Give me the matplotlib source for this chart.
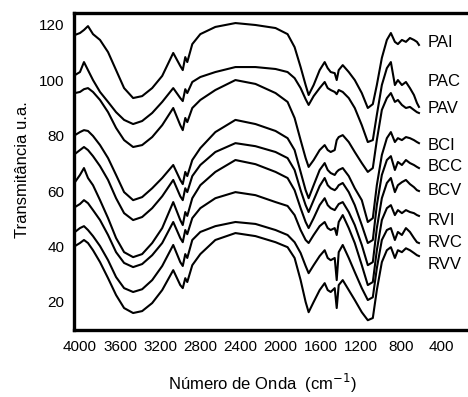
import numpy as np
import matplotlib
matplotlib.use("Agg")
import matplotlib.pyplot as plt

plt.rcParams['font.family'] = ['Liberation Sans', 'DejaVu Sans']

# numero de onda (cm-1), comum a todos os espectros
wn = [4050, 4000, 3960, 3920, 3870, 3800, 3720, 3640, 3560, 3470,
      3380, 3280, 3180, 3070, 3000, 2975, 2950, 2930, 2880, 2800,
      2650, 2450, 2250, 2050, 1930, 1860, 1800, 1750, 1720, 1670,
      1610, 1560, 1530, 1500, 1460, 1440, 1420, 1380, 1320, 1260,
      1190, 1130, 1080, 1040, 990, 940, 900, 860, 830, 790,
      750, 710, 670, 640, 620]

pai = [116.4, 117.1, 118.2, 119.6, 116.7, 114.6, 110.2, 103.7, 97.2, 93.6,
       94.3, 97.2, 101.6, 109.9, 105.2, 103.7, 108.4, 106.6, 113.1, 116.7,
       119.3, 120.7, 120.0, 118.9, 116.7, 112.0, 104.8, 98.3, 94.7, 98.3,
       103.7, 106.6, 104.4, 103.0, 102.6, 100.1, 103.7, 105.5, 103.0, 100.1,
       95.4, 90.0, 91.4, 98.3, 108.1, 114.6, 117.1, 113.9, 113.1, 114.6,
       113.9, 115.3, 114.6, 113.9, 112.8]
pac = [101.9, 103.0, 106.6, 103.7, 100.1, 95.8, 92.2, 88.5, 85.7, 84.2,
       85.3, 88.2, 92.2, 97.2, 93.6, 92.5, 96.8, 95.4, 99.4, 101.2,
       103.0, 104.8, 104.8, 104.1, 103.0, 100.8, 97.2, 93.2, 91.1, 94.3,
       97.2, 99.4, 97.2, 96.5, 95.8, 95.0, 96.5, 95.8, 93.6, 90.0,
       83.8, 77.7, 78.4, 87.5, 98.3, 104.4, 106.6, 98.3, 100.1, 98.3,
       99.4, 97.2, 94.7, 91.8, 90.4]
pav = [95.4, 95.8, 96.8, 97.2, 95.8, 92.9, 88.5, 82.8, 78.4, 75.9,
       76.6, 79.5, 83.8, 90.0, 83.8, 82.0, 86.4, 84.9, 90.0, 92.9,
       96.5, 100.1, 98.7, 95.4, 92.2, 86.4, 78.4, 71.9, 68.7, 71.2,
       74.8, 76.6, 74.8, 74.1, 74.8, 78.4, 79.5, 80.2, 77.7, 74.1,
       70.1, 66.9, 68.3, 78.4, 89.3, 93.6, 95.4, 92.2, 92.9, 91.1,
       90.0, 90.4, 89.3, 88.5, 88.2]
bci = [80.2, 81.3, 82.0, 81.7, 79.9, 76.6, 71.9, 65.8, 59.6, 56.7,
       57.8, 61.0, 64.7, 69.4, 64.0, 62.5, 66.9, 65.4, 71.2, 75.5,
       81.3, 85.7, 84.2, 81.7, 79.1, 74.8, 66.9, 60.3, 57.4, 62.1,
       67.6, 70.1, 67.6, 66.5, 65.8, 66.9, 67.6, 68.3, 65.4, 61.0,
       56.7, 48.8, 50.2, 62.1, 73.0, 79.1, 81.3, 77.7, 79.1, 78.4,
       79.5, 79.1, 78.4, 77.7, 77.3]
bcc = [73.4, 74.8, 75.9, 74.8, 72.6, 69.0, 64.0, 57.4, 52.0, 49.5,
       50.6, 53.8, 58.1, 64.0, 58.1, 56.7, 61.0, 59.6, 65.4, 69.4,
       74.1, 77.3, 76.2, 74.1, 71.9, 67.6, 60.3, 54.9, 52.4, 56.7,
       61.8, 64.7, 62.1, 61.0, 60.3, 61.0, 62.1, 62.9, 59.6, 54.9,
       47.7, 41.2, 42.3, 54.9, 65.8, 71.2, 72.6, 67.6, 70.5, 69.4,
       71.2, 70.1, 69.4, 68.7, 68.3]
bcv = [63.2, 65.8, 68.3, 64.7, 62.1, 56.7, 50.2, 43.0, 37.9, 36.1,
       37.2, 41.2, 46.6, 56.0, 49.5, 47.7, 52.4, 51.0, 57.4, 62.1,
       66.9, 71.2, 69.7, 66.9, 64.7, 60.3, 53.8, 48.8, 46.6, 50.2,
       54.9, 57.4, 54.9, 53.8, 53.1, 54.2, 55.3, 56.0, 52.4, 47.7,
       40.5, 33.2, 34.3, 46.6, 57.4, 62.9, 64.7, 59.6, 62.1, 63.2,
       64.0, 62.5, 61.4, 60.3, 60.0]
rvi = [54.2, 55.3, 56.7, 55.6, 53.1, 49.5, 44.1, 37.9, 34.0, 32.5,
       33.6, 36.8, 41.2, 48.8, 43.0, 41.5, 45.9, 44.4, 50.2, 53.8,
       57.4, 59.6, 58.5, 56.0, 54.6, 51.3, 45.9, 42.3, 41.2, 44.1,
       47.3, 48.8, 46.6, 45.9, 46.6, 44.1, 48.8, 51.3, 46.6, 41.2,
       33.2, 26.0, 27.1, 38.6, 49.5, 53.8, 54.9, 51.3, 53.1, 52.0,
       53.1, 52.4, 52.0, 51.3, 51.0]
rvc = [45.2, 46.6, 47.3, 45.9, 43.7, 40.1, 35.0, 28.9, 24.9, 23.5,
       24.5, 27.8, 32.9, 40.5, 34.3, 32.9, 37.2, 35.8, 42.3, 45.2,
       47.3, 48.8, 48.1, 45.9, 44.1, 41.5, 37.6, 32.9, 30.3, 33.2,
       36.5, 38.6, 35.8, 35.0, 35.8, 27.8, 37.9, 40.5, 35.8, 30.7,
       24.9, 20.6, 21.6, 32.1, 42.3, 45.9, 46.6, 42.3, 45.2, 44.1,
       46.6, 45.2, 43.0, 41.5, 41.2]
rvv = [40.1, 41.2, 42.3, 41.2, 38.6, 34.3, 28.5, 22.4, 17.7, 15.9,
       16.6, 19.5, 24.2, 31.4, 26.0, 24.9, 28.5, 27.1, 33.2, 37.2,
       42.3, 44.8, 43.7, 41.5, 39.7, 35.8, 27.8, 19.9, 16.2, 19.9,
       24.2, 26.7, 24.2, 23.5, 24.9, 17.7, 26.0, 27.8, 24.2, 20.6,
       16.2, 13.3, 14.1, 24.2, 34.3, 38.6, 39.7, 35.8, 38.6, 37.9,
       39.3, 38.6, 37.6, 36.8, 36.5]

nomes = ['PAI', 'PAC', 'PAV', 'BCI', 'BCC', 'BCV', 'RVI', 'RVC', 'RVV']
nome_y = [113.5, 99.4, 90.0, 76.6, 68.7, 60.3, 49.5, 41.3, 33.4]
espectros = [pai, pac, pav, bci, bcc, bcv, rvi, rvc, rvv]

fig = plt.figure(figsize=(4.68, 3.97), dpi=100)
ax = fig.add_axes([0.158, 0.169, 0.842, 0.798])

for serie in espectros:
    ax.plot(wn, serie, color='black', lw=1.5)

for nome, y in zip(nomes, nome_y):
    ax.text(530, y, nome, fontsize=12, va='center', ha='left')

ax.set_xlim(4060, 131)
ax.set_ylim(9.8, 124.3)
ax.set_xticks([4000, 3600, 3200, 2800, 2400, 2000, 1600, 1200, 800, 400])
ax.set_yticks([20, 40, 60, 80, 100, 120])
ax.tick_params(length=0, labelsize=11, pad=7)
ax.spines['right'].set_visible(False)
for s in ['left', 'top', 'bottom']:
    ax.spines[s].set_linewidth(2.4)

fig.text(0.048, 0.573, 'Transmitância u.a.', rotation=90, fontsize=12,
         ha='center', va='center')
fig.text(0.56, 0.035, 'Número de Onda  (cm$^{-1}$)', fontsize=12,
         ha='center', va='center')

fig.savefig('out.png', dpi=100)
